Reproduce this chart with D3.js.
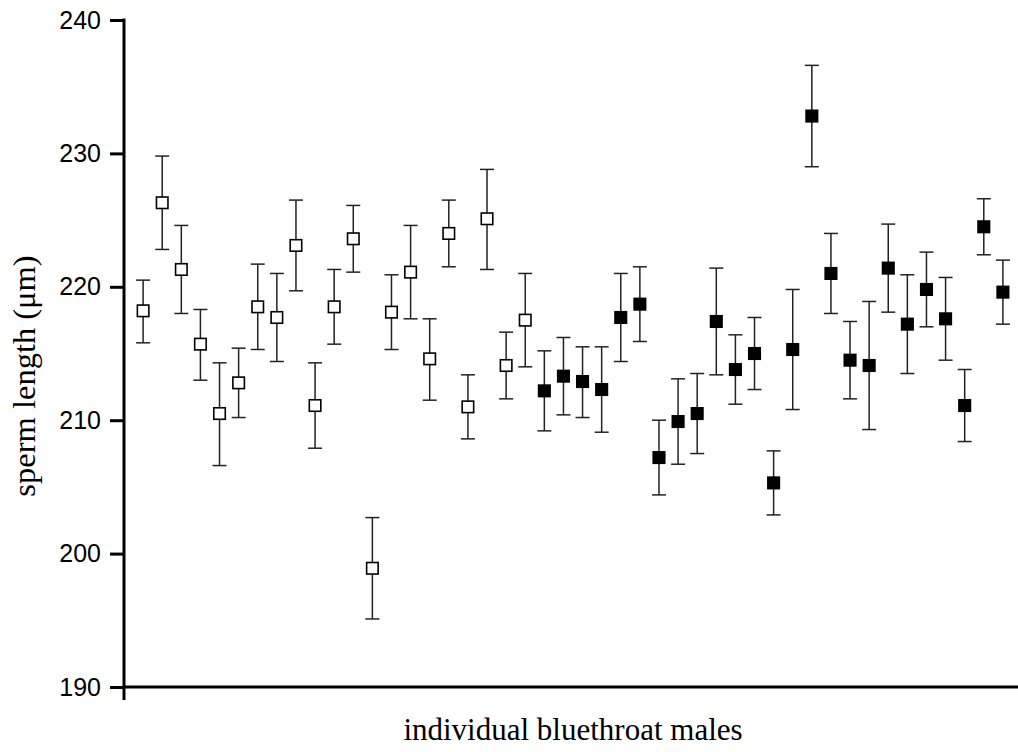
<!DOCTYPE html>
<meta charset="utf-8">

<!-- Load d3.js -->
<script src="https://d3js.org/d3.v7.min.js"></script>

<style>
body { margin: 0; background: #fff; }
.tick text { font-family: 'Liberation Sans', Arial, sans-serif; font-size: 25px; fill: #000; }
.axis-title { font-family: 'Liberation Serif', 'Times New Roman', serif; font-size: 31px; fill: #000; }
.errbar { stroke: #222; stroke-width: 1.5; fill: none; }
</style>

<div id="my_dataviz"></div>

<script>

// sperm length per male: mean, upper and lower end of the error bar
// males with open symbols
var openMeans = [218.2, 226.3, 221.3, 215.7, 210.5, 212.8, 218.5, 217.7, 223.1, 211.1, 218.5,
                 223.6, 198.9, 218.1, 221.1, 214.6, 224.0, 211.0, 225.1, 214.1, 217.5];
var openUpper = [220.5, 229.8, 224.6, 218.3, 214.3, 215.4, 221.7, 221.0, 226.5, 214.3, 221.3,
                 226.1, 202.7, 220.9, 224.6, 217.6, 226.5, 213.4, 228.8, 216.6, 221.0];
var openLower = [215.8, 222.8, 218.0, 213.0, 206.6, 210.2, 215.3, 214.4, 219.7, 207.9, 215.7,
                 221.1, 195.1, 215.3, 217.6, 211.5, 221.5, 208.6, 221.3, 211.6, 214.0];

// males with filled symbols
var filledMeans = [212.2, 213.3, 212.9, 212.3, 217.7, 218.7, 207.2, 209.9, 210.5, 217.4, 213.8, 215.0, 205.3,
                   215.3, 232.8, 221.0, 214.5, 214.1, 221.4, 217.2, 219.8, 217.6, 211.1, 224.5, 219.6];
var filledUpper = [215.2, 216.2, 215.5, 215.5, 221.0, 221.5, 210.0, 213.1, 213.5, 221.4, 216.4, 217.7, 207.7,
                   219.8, 236.6, 224.0, 217.4, 218.9, 224.7, 220.9, 222.6, 220.7, 213.8, 226.6, 222.0];
var filledLower = [209.2, 210.4, 210.2, 209.1, 214.4, 215.9, 204.4, 206.7, 207.5, 213.4, 211.2, 212.3, 202.9,
                   210.8, 229.0, 218.0, 211.6, 209.3, 218.1, 213.5, 217.0, 214.5, 208.4, 222.4, 217.2];

var yTicks = [190, 200, 210, 220, 230, 240];

// build one list of points, open males first
var points = [];
openMeans.forEach(function(m, i) {
  points.push({mean: m, hi: openUpper[i], lo: openLower[i], open: true});
});
filledMeans.forEach(function(m, i) {
  points.push({mean: m, hi: filledUpper[i], lo: filledLower[i], open: false});
});
points.forEach(function(d, i) { d.idx = i + 1; });

// dimensions
var width = 1018,
    height = 752,
    plotLeft = 124,
    plotTop = 20,
    plotBottom = 687;

var svg = d3.select("#my_dataviz").append("svg")
    .attr("width", width)
    .attr("height", height);

// scales
var x = d3.scaleLinear()
    .domain([0, points.length + 1])
    .range([plotLeft, 1022]);

var y = d3.scaleLinear()
    .domain([190, 240])
    .range([plotBottom, plotTop]);

// y axis
var yAxis = svg.append("g")
    .attr("transform", "translate(" + plotLeft + ",0)")
    .call(d3.axisLeft(y).tickValues(yTicks).tickSize(14).tickPadding(9).tickSizeOuter(0));

yAxis.select(".domain").remove();
yAxis.selectAll(".tick line").attr("stroke", "#000").attr("stroke-width", 3);

svg.append("line")
    .attr("x1", plotLeft).attr("x2", plotLeft)
    .attr("y1", plotTop - 1.5).attr("y2", plotBottom + 13)
    .attr("stroke", "#000").attr("stroke-width", 3);

// x axis line, no ticks
svg.append("line")
    .attr("x1", plotLeft).attr("x2", width)
    .attr("y1", plotBottom).attr("y2", plotBottom)
    .attr("stroke", "#000").attr("stroke-width", 3);

// error bars
var capW = 7;
var bars = svg.append("g")
  .selectAll("g")
  .data(points)
  .enter().append("g");

bars.append("line")
    .attr("class", "errbar")
    .attr("x1", function(d) { return x(d.idx); })
    .attr("x2", function(d) { return x(d.idx); })
    .attr("y1", function(d) { return y(d.hi); })
    .attr("y2", function(d) { return y(d.lo); });

bars.append("line")
    .attr("class", "errbar")
    .attr("x1", function(d) { return x(d.idx) - capW; })
    .attr("x2", function(d) { return x(d.idx) + capW; })
    .attr("y1", function(d) { return y(d.hi); })
    .attr("y2", function(d) { return y(d.hi); });

bars.append("line")
    .attr("class", "errbar")
    .attr("x1", function(d) { return x(d.idx) - capW; })
    .attr("x2", function(d) { return x(d.idx) + capW; })
    .attr("y1", function(d) { return y(d.lo); })
    .attr("y2", function(d) { return y(d.lo); });

// square markers
var s = 11.5;
svg.append("g")
  .selectAll("rect")
  .data(points)
  .enter().append("rect")
    .attr("x", function(d) { return x(d.idx) - s / 2; })
    .attr("y", function(d) { return y(d.mean) - s / 2; })
    .attr("width", s)
    .attr("height", s)
    .attr("fill", function(d) { return d.open ? "#fff" : "#000"; })
    .attr("stroke", "#000")
    .attr("stroke-width", 1.6);

// axis titles
svg.append("text")
    .attr("class", "axis-title")
    .attr("x", 573)
    .attr("y", 740)
    .attr("text-anchor", "middle")
    .text("individual bluethroat males");

svg.append("text")
    .attr("class", "axis-title")
    .attr("transform", "translate(35,376) rotate(-90)")
    .attr("text-anchor", "middle")
    .style("font-size", "32.5px")
    .text("sperm length (\u03bcm)");

</script>
